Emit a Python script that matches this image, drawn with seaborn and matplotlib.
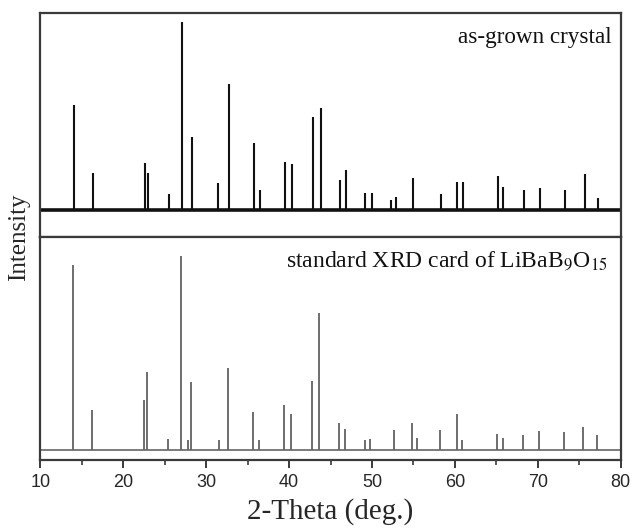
import matplotlib
matplotlib.use('Agg')
import matplotlib.pyplot as plt
import matplotlib.ticker as ticker
import seaborn as sns

# as-grown crystal: peak positions (2-theta, deg.) and heights (arb. units)
grown_pos = [14.1, 16.3, 22.6, 22.95, 25.5, 27.1, 28.3, 31.4, 32.7, 35.8, 36.5,
             39.5, 40.4, 42.9, 43.8, 46.1, 46.85, 49.2, 49.95, 52.3, 52.85,
             54.95, 58.35, 60.2, 61.0, 65.2, 65.85, 68.4, 70.25, 73.25, 75.7, 77.3]
grown_int = [105, 37, 47, 37, 16, 188, 73, 27, 126, 67, 20,
             48, 46, 93, 102, 30, 40, 17, 17, 10, 13,
             32, 16, 28, 28, 34, 23, 20, 22, 20, 36, 12]

# standard XRD card of LiBaB9O15
card_pos = [13.95, 16.2, 22.5, 22.85, 25.35, 26.95, 27.85, 28.15, 31.5, 32.6, 35.6,
            36.4, 39.4, 40.25, 42.75, 43.6, 46.0, 46.8, 49.1, 49.8, 52.7, 54.8,
            55.45, 58.2, 60.2, 60.9, 65.1, 65.8, 68.25, 70.2, 73.15, 75.5, 77.15]
card_int = [185, 40, 50, 78, 11, 194, 10, 68, 10, 82, 38,
            10, 45, 36, 69, 137, 27, 21, 10, 11, 20, 27,
            12, 20, 36, 10, 16, 12, 15, 19, 18, 23, 15]

x_min, x_max = 10, 80

sns.set_style('ticks')
plt.rcParams['font.family'] = ['Liberation Serif', 'DejaVu Serif']
plt.rcParams['mathtext.fontset'] = 'stix'
frame_color = '#3a3a3a'

fig = plt.figure(figsize=(6.32, 5.30), dpi=100)
ax_top = fig.add_axes([0.064, 0.5528, 0.918, 0.4227])
ax_bot = fig.add_axes([0.064, 0.1321, 0.918, 0.4207], sharex=ax_top)

# top panel: measured pattern
ax_top.vlines(grown_pos, 0, grown_int, color='#111111', lw=1.5)
ax_top.axhline(0, color='#111111', lw=2.6)
ax_top.set_ylim(-27, 197)
ax_top.text(0.985, 0.866, 'as-grown crystal', transform=ax_top.transAxes,
            ha='right', va='baseline', fontsize=16.7, color='#111111')

# bottom panel: reference card
ax_bot.vlines(card_pos, 0, card_int, color='#555555', lw=1.2)
ax_bot.axhline(0, color='#666666', lw=1.2)
ax_bot.set_ylim(-10, 213)
ax_bot.text(0.978, 0.867, r'standard XRD card of LiBaB$_9$O$_{15}$',
            transform=ax_bot.transAxes, ha='right', va='baseline',
            fontsize=17, color='#111111')

for ax in (ax_top, ax_bot):
    ax.set_xlim(x_min, x_max)
    ax.set_yticks([])
    ax.set_facecolor('white')
    for sp in ax.spines.values():
        sp.set_visible(True)
        sp.set_color(frame_color)
        sp.set_linewidth(1.6)

ax_top.tick_params(axis='x', which='both', bottom=False, labelbottom=False)
ax_bot.xaxis.set_major_locator(ticker.MultipleLocator(10))
ax_bot.xaxis.set_minor_locator(ticker.MultipleLocator(5))
ax_bot.tick_params(axis='x', which='major', direction='out', length=6, width=1.4,
                   color=frame_color, labelsize=13, pad=4)
ax_bot.tick_params(axis='x', which='minor', direction='out', length=3.5, width=1.2,
                   color=frame_color)
for lab in ax_bot.get_xticklabels():
    lab.set_fontfamily('Liberation Sans')

ax_bot.set_xlabel('2-Theta (deg.)', fontsize=21, labelpad=5)
fig.text(0.031, 0.553, 'Intensity', rotation=90, ha='center', va='center', fontsize=18)

plt.savefig('out.png', dpi=100, facecolor='white')
